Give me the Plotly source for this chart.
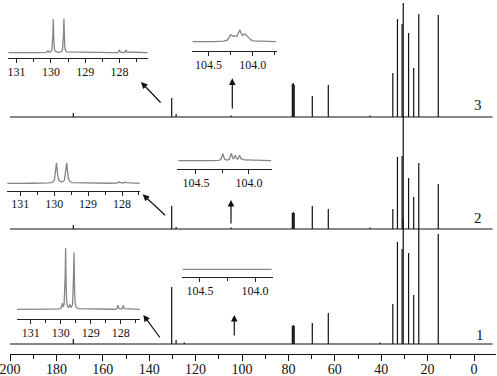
import numpy as np
import plotly.graph_objects as go

# ---------------- data (ppm positions, intensities in relative units) ----------------
peaks_ppm = [172.7, 130.3, 128.4, 104.7, 78.3, 77.9, 77.5, 69.7, 62.8,
             35.0, 33.0, 31.0, 30.5, 28.2, 26.0, 23.8, 15.4]
spec3_h = [4, 19, 3, 1.5, 33, 34, 32, 21, 32, 44, 98, 93, 114, 84, 49, 103, 102]
spec2_h = [4, 23, 2, 1.5, 16, 17, 16, 23, 20, 20, 72, 73, 113, 51, 32, 66, 45]
spec1_h = [5, 57, 4, 0.0, 18, 19, 18, 21, 31, 40, 102, 95, 125, 91, 49, 115, 110]
minor_ppm = [44.8, 40.5, 124.9]
spec3_minor = [1.5, 0, 0]
spec2_minor = [1.5, 0, 0]
spec1_minor = [0, 1.5, 1.5]

# inset spectra (olefinic region 127-131 ppm)
insA_ppm = [130.09, 129.93, 129.62, 128.00, 127.81]
insA_h = [2, 33.5, 34, 3, 3]
insC_ppm = [129.93, 129.63, 128.08, 127.89]
insC_h = [20, 20, 1.5, 1.5]
insE_ppm = [129.95, 129.84, 129.70, 129.56, 128.09, 127.92]
insE_h = [5, 61, 4, 56.6, 4, 4]
# inset spectra (104 ppm region)
insB_ppm = [104.245, 104.20, 104.145, 104.09, 104.05]
insB_h = [6, 4, 10, 6, 3]
insD_ppm = [104.245, 104.166, 104.128, 104.088, 104.056]
insD_h = [7, 7, 5, 5, 2]
insF_ppm = []
insF_h = []

labels = ["3", "2", "1"]
main_ticks = [200, 180, 160, 140, 120, 100, 80, 60, 40, 20, 0]

# ---------------- layout helpers (pixel geometry) ----------------
W, H = 497, 376
ML, MR, MT, MB = 4, 0, 0, 22
PW, PH = W - ML - MR, H - MT - MB


def fx(px):
    return (px - ML) / PW


def fy(py):
    return (PH - (py - MT)) / PH


def ppm_of(px):
    return (474 - px) / 2.32


def yv(py):
    return PH - (py - MT)


FONT = "Liberation Serif"
MAIN_COL = "#111111"
INS_COL = "#858585"

fig = go.Figure()

# ---------------- main stacked spectra ----------------
baselines = {"3": yv(117), "2": yv(229), "1": yv(344)}
spectra = {"3": (spec3_h, spec3_minor), "2": (spec2_h, spec2_minor), "1": (spec1_h, spec1_minor)}
for name in labels:
    hs, mh = spectra[name]
    b = baselines[name]
    xs, ys = [200, -8, None], [b, b, None]
    for p, h in list(zip(peaks_ppm, hs)) + list(zip(minor_ppm, mh)):
        if h > 0:
            xs += [p, p, None]
            ys += [b, b + h, None]
    fig.add_trace(go.Scatter(x=xs, y=ys, mode="lines", xaxis="x", yaxis="y",
                             line=dict(color=MAIN_COL, width=1.2), hoverinfo="skip",
                             showlegend=False))

# ---------------- insets ----------------
insets = [
    # name, x px span, ppm range, axis y px, top px, base offset px, peaks, heights, hwhm, dtick, minor
    ("A", (8, 148), (131.25, 127.17), 58, 8, 5.3, insA_ppm, insA_h, 0.012, 1, 0.5),
    ("B", (191.7, 276.7), (104.69, 103.73), 51, 21, 9.3, insB_ppm, insB_h, 0.02, 0.5, 0.25),
    ("C", (7, 140), (131.39, 127.47), 190.7, 150, 7.4, insC_ppm, insC_h, 0.028, 1, 0.5),
    ("D", (177.3, 272.3), (104.675, 103.78), 169, 139, 8.3, insD_ppm, insD_h, 0.008, 0.5, 0.25),
    ("E", (16.7, 140), (131.47, 127.36), 319, 240, 9.7, insE_ppm, insE_h, 0.014, 1, 0.5),
    ("F", (181.7, 272.7), (104.666, 103.84), 277.3, 257.3, 8, insF_ppm, insF_h, 0.01, 0.5, 0.25),
]

layout_axes = {}
for i, (nm, (x0, x1), (r0, r1), ay_px, top_px, boff, pp, hh, w, dt, mdt) in enumerate(insets):
    k = i + 2
    xg = np.linspace(r1 + 0.01, r0 - 0.01, 2500)
    yg = np.zeros_like(xg)
    for p, h in zip(pp, hh):
        yg += h / (1 + ((xg - p) / w) ** 2)
    fig.add_trace(go.Scatter(x=xg, y=yg, mode="lines", xaxis=f"x{k}", yaxis=f"y{k}",
                             line=dict(color=INS_COL, width=1.3), hoverinfo="skip",
                             showlegend=False))
    fmt = ".0f" if dt == 1 else ".1f"
    layout_axes[f"xaxis{k}"] = dict(
        domain=[fx(x0), fx(x1)], range=[r0, r1], anchor=f"y{k}", automargin=False,
        showline=True, linecolor="#222", linewidth=1.2, showgrid=False, zeroline=False,
        ticks="outside", ticklen=4, tickwidth=1, tickcolor="#222", dtick=dt,
        tick0=0, tickformat=fmt, ticklabeloverflow="allow", ticklabelstandoff=-2,
        minor=dict(dtick=mdt, ticks="outside", ticklen=3, tickcolor="#222", showgrid=False),
        tickfont=dict(family=FONT, size=12, color="#111"))
    layout_axes[f"yaxis{k}"] = dict(
        domain=[fy(ay_px), fy(top_px)], range=[-boff, (ay_px - top_px) - boff],
        anchor=f"x{k}", visible=False)

# ---------------- arrows ----------------
arrows = [((141, 82), (162, 104)), ((232.3, 78.3), (232.3, 110)),
          ((142.7, 194.3), (166.7, 216.7)), ((231, 200), (231, 225)),
          ((143.3, 315), (161, 339)), ((234.3, 315), (234.3, 337))]
ann = []
for (hx, hy), (tx, ty) in arrows:
    ann.append(dict(x=ppm_of(hx), y=yv(hy), xref="x", yref="y", ax=tx - hx, ay=ty - hy,
                    showarrow=True, arrowhead=2, arrowsize=1.1, arrowwidth=1.2,
                    arrowcolor="#111", text=""))
for name, (lx, ly) in zip(labels, [(478, 105), (478, 218), (480, 335)]):
    ann.append(dict(x=ppm_of(lx), y=yv(ly), xref="x", yref="y", text=name, showarrow=False,
                    font=dict(family=FONT, size=15, color="#111")))

fig.update_layout(
    width=W, height=H, margin=dict(l=ML, r=MR, t=MT, b=MB),
    paper_bgcolor="white", plot_bgcolor="rgba(0,0,0,0)",
    xaxis=dict(domain=[fx(10), fx(496)], range=[200, ppm_of(496)], anchor="y",
               automargin=False, ticklabeloverflow="allow", ticklabelstandoff=-4,
               showline=True, linecolor="#111", linewidth=1.2, showgrid=False, zeroline=False,
               ticks="outside", ticklen=6, tickwidth=1.2, tickcolor="#111",
               tickvals=main_ticks, ticktext=[str(t) for t in main_ticks],
               minor=dict(tickvals=list(range(190, -10, -20)), ticks="outside", ticklen=4,
                          tickcolor="#111", showgrid=False),
               tickfont=dict(family=FONT, size=14, color="#111")),
    yaxis=dict(domain=[0, 1], range=[0, PH], visible=False, anchor="x"),
    annotations=ann,
    **layout_axes,
)

fig.write_html("out.html", post_script="document.body.style.margin='0';",
               config={"displayModeBar": False})
